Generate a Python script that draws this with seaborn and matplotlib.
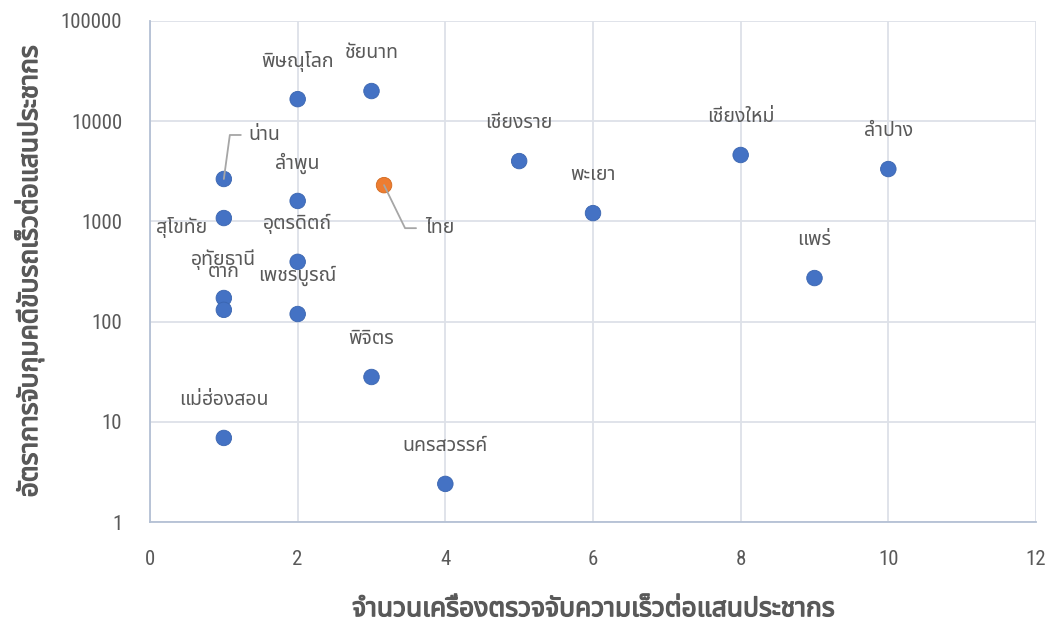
import numpy as np
import pandas as pd
import seaborn as sns
import matplotlib
matplotlib.use("Agg")
import matplotlib.pyplot as plt
import matplotlib.patheffects as pe
from matplotlib import font_manager
from matplotlib.ft2font import FT2Font
from matplotlib.lines import Line2D
from matplotlib.transforms import IdentityTransform
from matplotlib.ticker import FixedLocator, FixedFormatter

# data
provinces = [
    "น่าน", "พิษณุโลก", "ชัยนาท", "ลำพูน", "สุโขทัย", "อุตรดิตถ์",
    "อุทัยธานี", "ตาก", "เพชรบูรณ์", "พิจิตร", "แม่ฮ่องสอน", "นครสวรรค์",
    "เชียงราย", "พะเยา", "เชียงใหม่", "ลำปาง", "แพร่", "ไทย",
]
cameras_per_100k = [1, 2, 3, 2, 1, 2, 1, 1, 2, 3, 1, 4, 5, 6, 8, 10, 9, 3.17]
arrests_per_100k = [2650, 16600, 20000, 1600, 1080, 395, 172, 131, 119, 28,
                    6.9, 2.4, 4000, 1210, 4600, 3330, 272, 2300]
group = ["province"] * 17 + ["country"]

x_ticks = [0, 2, 4, 6, 8, 10, 12]
y_ticks = [1, 10, 100, 1000, 10000, 100000]
x_title = "จำนวนเครื่องตรวจจับความเร็วต่อแสนประชากร"
y_title = "อัตราการจับกุมคดีขับรถเร็วต่อแสนประชากร"

# label placement (pixels from the point) - default is straight above
label_offset = {
    "สุโขทัย": (-42, -9, "center"),
    "น่าน": (25, 44, "left"),
    "ไทย": (41, -43, "left"),
}
# leader line bends (pixels from the point)
leader_lines = {
    "น่าน": [(0, 0), (6, 44), (17, 44)],
    "ไทย": [(0, 0), (21, -43), (32, -43)],
}


def fonts_with(char):
    found = []
    for f in font_manager.fontManager.ttflist:
        try:
            if ord(char) in FT2Font(f.fname).get_charmap():
                found.append(f.name)
        except Exception:
            pass
    return found


def thai_font():
    preferred = ["Noto Sans Thai", "Noto Sans Thai UI", "Leelawadee UI", "Tahoma",
                 "Loma", "Garuda", "Sarabun", "Noto Sans Thai Looped"]
    found = fonts_with("ก")
    for p in preferred:
        if p in found:
            return p
    return found[0] if found else "DejaVu Sans"


def narrow_font():
    names = {f.name for f in font_manager.fontManager.ttflist}
    for p in ["Liberation Sans Narrow", "DejaVu Sans Condensed", "Roboto Condensed",
              "Open Sans Condensed"]:
        if p in names:
            return p
    return None


df = pd.DataFrame({
    "name": provinces,
    "x": cameras_per_100k,
    "y": arrests_per_100k,
    "group": group,
})

sns.set_style("white")
fam = thai_font()
plt.rcParams["font.family"] = [fam, "DejaVu Sans"]

text_color = "#595959"
grid_color = "#DDE1E8"
bold = [pe.withStroke(linewidth=0.9, foreground=text_color)]

fig = plt.figure(figsize=(10.5, 6.26), dpi=100)
ax = fig.add_axes([150 / 1050, 1 - 522 / 626, 886 / 1050, 501 / 626])

sns.scatterplot(
    data=df, x="x", y="y", hue="group",
    palette={"province": "#4472C4", "country": "#ED7D31"},
    s=125, linewidth=0.6, legend=False, ax=ax, zorder=3,
)
ax.collections[0].set_edgecolors(
    ["#D2691E" if g == "country" else "#3A65B0" for g in df["group"]]
)

ax.set_yscale("log")
ax.set_xlim(0, 12)
ax.set_ylim(1, 100000)
ax.yaxis.set_major_locator(FixedLocator(y_ticks))
ax.yaxis.set_major_formatter(FixedFormatter([str(v) for v in y_ticks]))
ax.yaxis.set_minor_locator(FixedLocator([]))
ax.set_xticks(x_ticks)
ax.set_xticklabels([str(v) for v in x_ticks])

ax.grid(True, which="major", color=grid_color, linewidth=1.3, zorder=0)
ax.set_axisbelow(True)
for side in ["top", "right"]:
    ax.spines[side].set_visible(False)
for side in ["left", "bottom"]:
    ax.spines[side].set_color("#B4C0D4")
    ax.spines[side].set_linewidth(1.3)

narrow = narrow_font()
ax.tick_params(axis="both", length=0, labelcolor=text_color)
for lbl in ax.get_xticklabels() + ax.get_yticklabels():
    if narrow:
        lbl.set_fontfamily([narrow, "DejaVu Sans"])
        lbl.set_fontsize(15)
    else:
        lbl.set_fontfamily(["DejaVu Sans"])
        lbl.set_fontstretch("condensed")
        lbl.set_fontsize(13)
ax.tick_params(axis="x", pad=20)
ax.tick_params(axis="y", pad=20)

ax.set_xlabel(x_title, fontsize=19, color=text_color, labelpad=19, path_effects=bold)
ax.set_ylabel(y_title, fontsize=19, color=text_color, labelpad=12, path_effects=bold)

for _, row in df.iterrows():
    dx, dy, ha = label_offset.get(row["name"], (0, 38, "center"))
    ax.annotate(
        row["name"], xy=(row["x"], row["y"]), xytext=(dx, dy),
        textcoords="offset pixels", ha=ha, va="center",
        fontsize=14, color=text_color, zorder=4,
    )

# leader lines, placed in pixels around their points
fig.canvas.draw()
for name, bends in leader_lines.items():
    row = df[df["name"] == name].iloc[0]
    px, py = ax.transData.transform((row["x"], row["y"]))
    xs = [px + b[0] for b in bends]
    ys = [py + b[1] for b in bends]
    fig.add_artist(Line2D(xs, ys, transform=IdentityTransform(),
                          color="#A6A6A6", lw=1.3, zorder=2))

fig.savefig("out.png", dpi=100)
